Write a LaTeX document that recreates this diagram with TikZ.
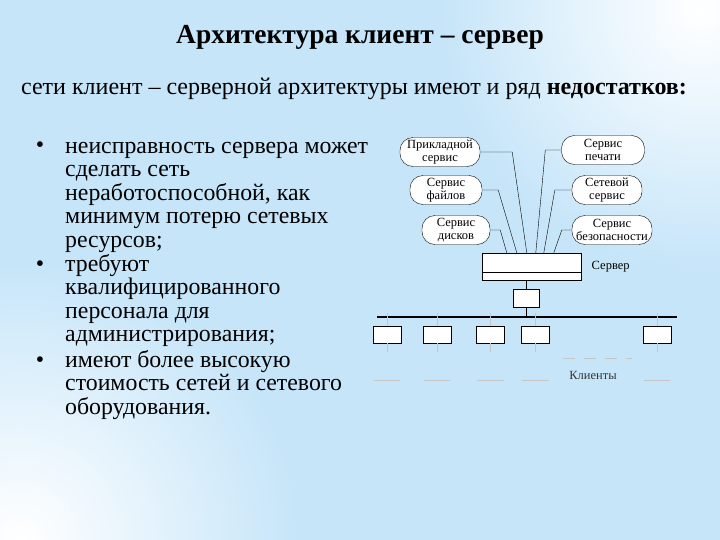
\documentclass[tikz,border=0pt]{standalone}
\usepackage{fontspec}
\setmainfont{Liberation Serif}
\newfontfamily\slidefont{Liberation Serif}
\usetikzlibrary{positioning,calc}

\definecolor{bgblue}{RGB}{198,229,249}

\begin{document}
\begin{tikzpicture}[
  x=1pt, y=-1pt,
  svc/.style={draw, fill=white, rounded corners=13pt, minimum height=29pt, inner sep=0pt, align=center, font=\slidefont\fontsize{12.5}{13.5}\selectfont},
  box/.style={draw, fill=white, inner sep=0pt, minimum width=28pt, minimum height=17pt},
  txt/.style={anchor=base west, inner sep=0pt, align=left, font=\slidefont\fontsize{23.8}{23.6}\selectfont},
  lbl/.style={font=\slidefont\fontsize{12.5}{14}\selectfont},
  ln/.style={thin},
  faint/.style={draw=gray!45, thin}
]
% background
\useasboundingbox (0,0) rectangle (720,540);
\fill[bgblue] (0,0) rectangle (720,540);
\begin{scope}
  \clip (0,0) rectangle (720,540);
  \shade[inner color=white, outer color=bgblue] (700,10) circle (260);
  \shade[inner color=white, outer color=bgblue] (20,540) circle (280);
\end{scope}

% headings
\node[font=\slidefont\fontsize{27.5}{30}\selectfont\bfseries] (title) at (360,37) {Архитектура клиент – сервер};
\node[font=\slidefont\fontsize{24}{26}\selectfont] (sub) at (354,89) {сети клиент – серверной архитектуры имеют и ряд \textbf{недостатков:}};

% bullet list
\node[txt] (it1) at (65,247.4) {неисправность сервера может\\сделать сеть\\неработоспособной, как\\минимум потерю сетевых\\ресурсов;};
\node[txt] (it2) at (65,341.8) {требуют\\квалифицированного\\персонала для\\администрирования;};
\node[txt] (it3) at (65,414.2) {имеют более высокую\\стоимость сетей и сетевого\\оборудования.};
\node[txt, anchor=base] (b1) at ($(it1.base west)+(-25,-94.4)$) {\textbullet};
\node[txt, anchor=base] (b2) at ($(it2.base west)+(-25,-70.8)$) {\textbullet};
\node[txt, anchor=base] (b3) at ($(it3.base west)+(-25,-47.2)$) {\textbullet};

% services
\node[svc, minimum width=80pt] (app)   at (440,152) {Прикладной\\сервис};
\node[svc, minimum width=72pt] (files) at (446,190) {Сервис\\файлов};
\node[svc, minimum width=68pt] (disks) at (456,230) {Сервис\\дисков};
\node[svc, minimum width=83pt] (print) at (603,150) {Сервис\\печати};
\node[svc, minimum width=70pt] (netw)  at (607,190) {Сетевой\\сервис};
\node[svc, minimum width=80pt] (sec)   at (612,230) {Сервис\\безопасности};

% server and hub
\node[box, minimum width=99pt, minimum height=27pt] (srv) at (531.5,266.5) {};
\draw[semithick] ($(srv.south west)+(0,-8)$) -- ($(srv.south east)+(0,-8)$);
\node[lbl, right=7pt of srv.east] (srvl) {Сервер};
\node[box, minimum width=26pt, minimum height=18pt] (hub) at (526,298) {};

\draw[ln] (app.east)   -- ++(32,0)  -- ($(srv.north west)+(45,0)$);
\draw[ln] (files.east) -- ++(16,0)  -- ($(srv.north west)+(35,0)$);
\draw[ln] (disks.east) -- ++(10,0)  -- ($(srv.north west)+(25,0)$);
\draw[ln] (print.west) -- ++(-16,0) -- ($(srv.north west)+(54,0)$);
\draw[ln] (netw.west)  -- ++(-17,0) -- ($(srv.north west)+(62,0)$);
\draw[ln] (sec.west)   -- ++(-10,0) -- ($(srv.north west)+(72,0)$);

% bus
\coordinate (busl) at (377,317);
\coordinate (busr) at (677,317);
\draw[line width=2.4pt] (busl) -- (busr);
\draw[ln] (hub.north) -- (hub.north |- srv.south);
\draw[ln] (hub.south) -- (hub.south |- busl);

% clients
\foreach \n/\x in {1/387,2/437,3/490.5,4/535.5,5/657} {
  \node[box] (c\n) at (\x,334.5) {};
  \draw[faint] (c\n.north) -- ($(c\n.north |- busl)+(0,-4)$);
  \draw[faint] (c\n.south) -- ++(0,9);
  \draw[faint] ($(c\n.west)+(1,45.5)$) -- ($(c\n.east)+(-1,45.5)$);
}
\draw[faint, dash pattern=on 12pt off 9pt] (563,358) -- (632,358);
\node[lbl, text=black!80] (cl) at (593,375) {Клиенты};
\end{tikzpicture}
\end{document}
